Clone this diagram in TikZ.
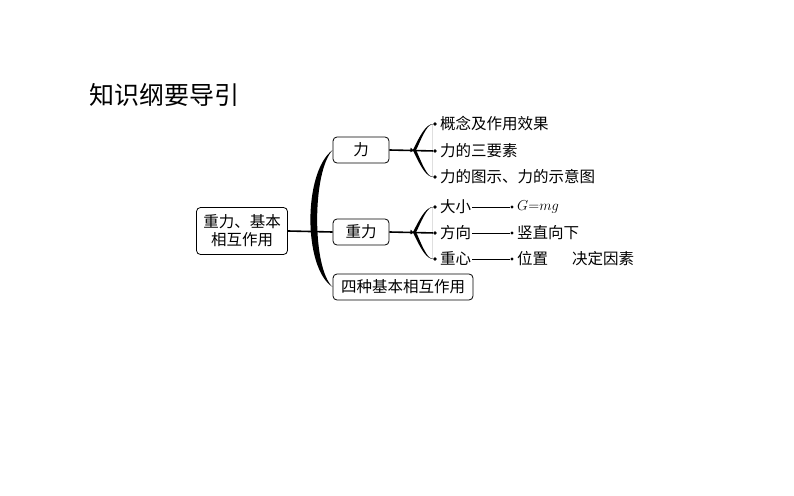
\documentclass[tikz,border=0pt]{standalone}
\usepackage{fontspec}
\newfontfamily\cjk{Noto Sans CJK SC}
\usetikzlibrary{positioning}
\begin{document}
\begin{tikzpicture}[x=1pt,y=-1pt,font=\cjk\fontsize{15.5}{18}\selectfont]
  \tikzset{box/.style={draw,rounded corners=4pt,inner sep=0pt,line width=0.8pt}}
  \tikzset{item/.style={anchor=west,inner sep=1pt}}
  \tikzset{dot/.style={circle,fill,inner sep=1.4pt}}
  \tikzset{stem/.style={line width=1.6pt}}
  \tikzset{pointer/.style={line width=0.6pt}}
  \useasboundingbox (0,0) rectangle (794,495);
  \node[anchor=west,font=\cjk\fontsize{25}{28}\selectfont] (title) at (86,95) {知识纲要导引};
  % boxes
  \node[box,minimum width=91pt,minimum height=47pt,align=center] (root) at (242,231) {重力、基本\\相互作用};
  \node[box,minimum width=56pt,minimum height=26pt] (li) at (361,150) {力};
  \node[box,minimum width=56pt,minimum height=26pt] (zhongli) at (361,232) {重力};
  \node[box,minimum width=140pt,minimum height=26pt] (sizhong) at (403,287) {四种基本相互作用};
  % big brace
  \fill (li.west) .. controls (303,172) and (303,268) .. (sizhong.west)
    .. controls (312,268) and (312,172) .. (li.west);
  \draw[stem] (root.east) -- (zhongli.west);
  % items
  \node[dot] (d1) at (435,124) {};
  \node[dot] (d2) at (435,151) {};
  \node[dot] (d3) at (435,177) {};
  \node[dot] (d4) at (435,207) {};
  \node[dot] (d5) at (435,233) {};
  \node[dot] (d6) at (435,259) {};
  \node[item] (t1) at (439,124) {概念及作用效果};
  \node[item] (t2) at (439,151) {力的三要素};
  \node[item] (t3) at (439,177) {力的图示、力的示意图};
  \node[item] (t4) at (439,207) {大小};
  \node[item] (t5) at (439,233) {方向};
  \node[item] (t6) at (439,259) {重心};
  % small braces
  \foreach \b/\top/\mid/\bot in {li/d1/d2/d3, zhongli/d4/d5/d6}{
    \coordinate (m) at ([xshift=21pt]\b.east);
    \fill (\top) .. controls ([xshift=-14pt]\top) and ([yshift=-12pt]m) .. (m)
      .. controls ([yshift=12pt]m) and ([xshift=-14pt]\bot) .. (\bot)
      .. controls ([xshift=-11pt]\bot) and ([shift={(4pt,10pt)}]m) .. ([xshift=4pt]m)
      .. controls ([shift={(4pt,-10pt)}]m) and ([xshift=-11pt]\top) .. (\top);
    \draw[stem] (\b.east) -- (\mid);
  }
  % pointers
  \node[dot,inner sep=1.2pt] (e4) at (512,207) {};
  \node[dot,inner sep=1.2pt] (e5) at (512,233) {};
  \node[dot,inner sep=1.2pt] (e6) at (512,259) {};
  \draw[pointer] (t4.east) -- (e4);
  \draw[pointer] (t5.east) -- (e5);
  \draw[pointer] (t6.east) -- (e6);
  \node[item] (g) at (516,207) {$G{=}mg$};
  \node[item] (fx) at (516,233) {竖直向下};
  \node[item] (wz) at (516,259) {位置};
  \node[item] (jd) at (571,259) {决定因素};
\end{tikzpicture}
\end{document}
